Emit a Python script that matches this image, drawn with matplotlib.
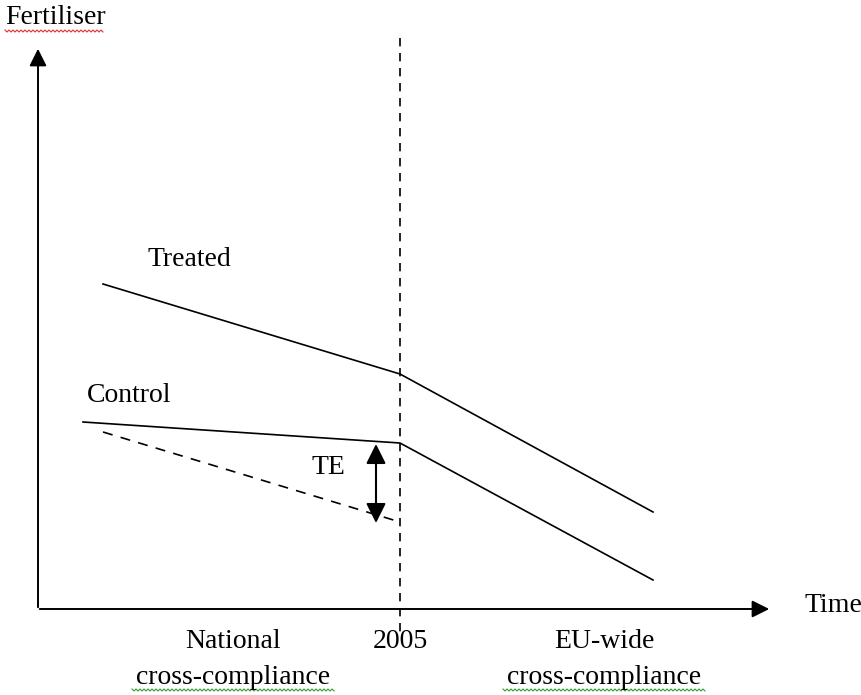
import matplotlib

matplotlib.use("Agg")

import matplotlib.pyplot as plt
import numpy as np

plt.rcParams["font.family"] = ["Liberation Serif", "DejaVu Serif"]

# schematic coordinates (pixel-like units, y grows downward)
treated_x = [103, 400, 653]
treated_y = [284, 374, 512]
control_x = [83, 400, 653]
control_y = [422, 443, 580]
counter_x = [103, 400]
counter_y = [432, 522]
te_x = 376
te_top, te_bottom = 444, 523
policy_x = 400

fig = plt.figure(figsize=(8.62, 6.95), dpi=100)
ax = fig.add_axes([0, 0, 1, 1])
ax.set_xlim(0, 862)
ax.set_ylim(695, 0)
ax.axis("off")

# axes with arrowheads
ax.annotate("", xy=(38, 46), xytext=(38, 610),
            arrowprops=dict(arrowstyle="-|>", color="black", lw=1.4, mutation_scale=26))
ax.annotate("", xy=(772, 609), xytext=(37, 609),
            arrowprops=dict(arrowstyle="-|>", color="black", lw=1.4, mutation_scale=26))

# 2005 dashed line
ax.plot([policy_x, policy_x], [38, 632], color="black", lw=1.2, ls=(0, (5, 4)))

ax.plot(treated_x, treated_y, color="black", lw=1.2)
ax.plot(control_x, control_y, color="black", lw=1.2)
ax.plot(counter_x, counter_y, color="black", lw=1.2, ls=(0, (6, 5)))

ax.annotate("", xy=(te_x, te_top), xytext=(te_x, te_bottom),
            arrowprops=dict(arrowstyle="<|-|>", color="black", lw=1.5,
                            mutation_scale=30, shrinkA=0, shrinkB=0))

fs = 20
ax.text(5, 17, "Fertiliser", fontsize=fs, va="center", ha="left")
ax.text(148, 259, "Treated", fontsize=fs, va="center", ha="left")
ax.text(87, 396, "Control", fontsize=fs, va="center", ha="left")
ax.text(312, 468, "TE", fontsize=fs, va="center", ha="left")
ax.text(805, 606, "Time", fontsize=fs, va="center", ha="left")
ax.text(233, 641, "National", fontsize=fs, va="center", ha="center")
ax.text(233, 677, "cross-compliance", fontsize=fs, va="center", ha="center")
ax.text(400, 641, "2005", fontsize=fs, va="center", ha="center")
ax.text(604, 641, "EU-wide", fontsize=fs, va="center", ha="center")
ax.text(604, 677, "cross-compliance", fontsize=fs, va="center", ha="center")


def squiggle(x0, x1, y, color):
    xs = np.arange(x0, x1 + 1, 2)
    ys = y + np.where(np.arange(len(xs)) % 2 == 0, -1, 1)
    ax.plot(xs, ys, color=color, lw=0.8)


squiggle(5, 103, 31, "#e03030")
squiggle(132, 334, 690, "#30a030")
squiggle(503, 705, 690, "#30a030")

fig.savefig("out.png", dpi=100)
